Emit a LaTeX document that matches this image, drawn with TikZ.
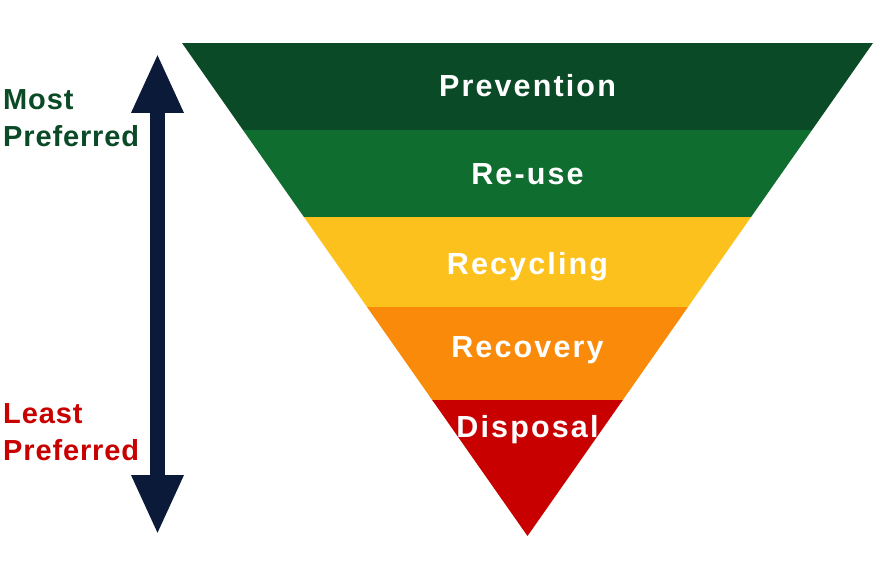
\documentclass[tikz,border=0pt]{standalone}
\usepackage{fontspec}
\setmainfont{Liberation Sans}
\newfontfamily\bandfont[LetterSpace=7]{Liberation Sans}
\newfontfamily\sidefont[LetterSpace=3]{Liberation Sans}
\usetikzlibrary{arrows.meta}
\definecolor{cPrev}{HTML}{0B4A27}
\definecolor{cReuse}{HTML}{106D30}
\definecolor{cRecy}{HTML}{FDC11E}
\definecolor{cReco}{HTML}{FA8B0A}
\definecolor{cDisp}{HTML}{C80000}
\definecolor{cNavy}{HTML}{0C1A3A}
\tikzset{
  bandlabel/.style={anchor=base, inner sep=0pt, text=white, font=\bandfont\bfseries\fontsize{30.5}{30}\selectfont},
  sidelabel/.style={anchor=base west, inner sep=0pt, font=\sidefont\bfseries\fontsize{29}{29}\selectfont},
}
\begin{document}
\begin{tikzpicture}[x=1pt,y=-1pt]
\useasboundingbox (0,0) rectangle (881,585);
\fill[white] (0,0) rectangle (881,585);
\coordinate (TL) at (182,43);
\coordinate (TR) at (873,43);
\coordinate (AP) at (527.5,536);
\begin{scope}
  \clip (TL) -- (TR) -- (AP) -- cycle;
  \fill[cPrev]  (170,43)  rectangle (880,130.5);
  \fill[cReuse] (170,130) rectangle (880,217.5);
  \fill[cRecy]  (170,217) rectangle (880,307.5);
  \fill[cReco]  (170,307) rectangle (880,400.5);
  \fill[cDisp]  (170,400) rectangle (880,540);
\end{scope}
\node[bandlabel] (prev) at (527.5,97)  {Prevention};
\node[bandlabel] (reuse) at (527.5,185) {Re-use};
\node[bandlabel] (recy) at (527.5,275) {Recycling};
\node[bandlabel] (reco) at (527.5,358) {Recovery};
\node[bandlabel] (disp) at (527.5,437) {Disposal};
\node[sidelabel, text=cPrev] (most1) at (3,110) {Most};
\node[sidelabel, text=cPrev] (most2) at (3,147) {Preferred};
\node[sidelabel, text=cDisp] (least1) at (3,423) {Least};
\node[sidelabel, text=cDisp] (least2) at (3,460) {Preferred};
\coordinate (atop) at (157.5,53);
\coordinate (abot) at (157.5,535);
\draw[cNavy, line width=15pt, {Triangle[length=60pt,width=48pt]}-{Triangle[length=60pt,width=48pt]}] (atop) -- (abot);
\end{tikzpicture}
\end{document}
